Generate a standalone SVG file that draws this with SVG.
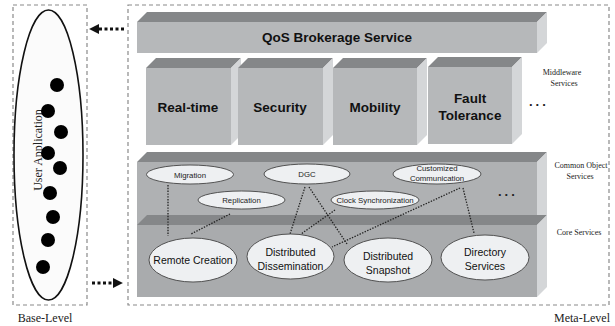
<svg xmlns="http://www.w3.org/2000/svg" width="615" height="326" viewBox="0 0 615 326">
  <defs>
    <marker id="headL" viewBox="0 0 10 10" refX="1" refY="5" markerWidth="3.3" markerHeight="3.3" orient="auto-start-reverse" markerUnits="strokeWidth">
      <path d="M0,0 L10,5 L0,10 Z" fill="#111"/>
    </marker>
    <style>
      .frame{fill:none;stroke:#8a8a8a;stroke-width:1.2;stroke-dasharray:4,3}
      .front{fill:#b6b8ba}
      .front2{fill:#afb1b3}
      .front3{fill:#a9abad}
      .top{fill:#858789}
      .side{fill:#d4d6d8}
      .big{font-family:"Liberation Sans",Arial,sans-serif;font-weight:bold;font-size:13.5px;fill:#111;text-anchor:middle}
      .svc{fill:#eef0f2;stroke:#444;stroke-width:0.9}
      .small{font-family:"Liberation Sans",Arial,sans-serif;font-size:7.8px;fill:#222;text-anchor:middle}
      .mid{font-family:"Liberation Sans",Arial,sans-serif;font-size:10.5px;fill:#111;text-anchor:middle}
      .note{font-family:"Liberation Serif","Times New Roman",serif;font-size:8px;fill:#222;text-anchor:middle}
      .lvl{font-family:"Liberation Serif","Times New Roman",serif;font-size:12px;fill:#222}
      .dots{font-family:"Liberation Sans",Arial,sans-serif;font-size:13px;font-weight:bold;fill:#222;letter-spacing:3px}
      .link{fill:none;stroke:#222;stroke-width:1.3;stroke-dasharray:1.4,1.4}
      .flow{fill:none;stroke:#111;stroke-width:3;stroke-dasharray:3,2.5}
    </style>
  </defs>

  <!-- base level -->
  <g id="base-level">
    <rect class="frame" x="13" y="5" width="74" height="300"/>
    <ellipse cx="48.5" cy="155" rx="34.5" ry="145" fill="#fbfbfb" stroke="#111" stroke-width="1.6"/>
    <text class="lvl" transform="translate(42,150) rotate(-90)" text-anchor="middle" font-size="12.5">User Application</text>
    <g fill="#000">
      <circle cx="57" cy="85" r="7"/>
      <circle cx="48" cy="111" r="7"/>
      <circle cx="61" cy="132" r="7"/>
      <circle cx="48" cy="153" r="7"/>
      <circle cx="60" cy="168" r="7"/>
      <circle cx="50" cy="193" r="7"/>
      <circle cx="53" cy="217" r="7"/>
      <circle cx="48" cy="240" r="7"/>
      <circle cx="43" cy="267" r="7"/>
    </g>
    <text class="lvl" x="45" y="322" text-anchor="middle">Base-Level</text>
  </g>

  <!-- meta level frame -->
  <g id="meta-level">
    <rect class="frame" x="128" y="5" width="481" height="300"/>
    <text class="lvl" x="610" y="322" text-anchor="end">Meta-Level</text>
  </g>

  <!-- QoS brokerage bar -->
  <g id="qos-brokerage">
    <polygon class="top" points="137,22 147,12 547,12 537,22"/>
    <polygon class="side" points="537,22 547,12 547,43 537,53"/>
    <rect class="front" x="137" y="22" width="400" height="31"/>
    <text class="big" x="337" y="42" font-size="13">QoS Brokerage Service</text>
  </g>

  <!-- middleware service boxes -->
  <g id="real-time">
    <polygon class="top" points="146,68 156,58 241,58 231,68"/>
    <polygon class="side" points="231,68 241,58 241,135 231,145"/>
    <rect class="front" x="146" y="68" width="85" height="77"/>
    <text class="big" x="188" y="112">Real-time</text>
  </g>
  <g id="security">
    <polygon class="top" points="238,68 248,58 333,58 323,68"/>
    <polygon class="side" points="323,68 333,58 333,135 323,145"/>
    <rect class="front" x="238" y="68" width="85" height="77"/>
    <text class="big" x="280" y="112">Security</text>
  </g>
  <g id="mobility">
    <polygon class="top" points="333,68 343,58 427,58 417,68"/>
    <polygon class="side" points="417,68 427,58 427,135 417,145"/>
    <rect class="front" x="333" y="68" width="84" height="77"/>
    <text class="big" x="375" y="112">Mobility</text>
  </g>
  <g id="fault-tolerance">
    <polygon class="top" points="428,67 438,57 522,57 512,67"/>
    <polygon class="side" points="512,67 522,57 522,134 512,144"/>
    <rect class="front" x="428" y="67" width="84" height="77"/>
    <text class="big" x="470" y="103">Fault</text>
    <text class="big" x="470" y="120">Tolerance</text>
  </g>
  <text class="dots" x="529" y="106">...</text>
  <text class="note" x="562" y="75">Middleware</text>
  <text class="note" x="564" y="86">Services</text>

  <!-- common object services bar -->
  <g id="common-object-services">
    <polygon class="top" points="137,162 147,152 547,152 537,162"/>
    <polygon class="side" points="537,162 547,152 547,215 537,225"/>
    <rect class="front2" x="137" y="162" width="400" height="63"/>
    <text class="note" x="581" y="168">Common Object</text>
    <text class="note" x="580" y="179">Services</text>
  </g>

  <!-- core services bar -->
  <g id="core-services">
    <polygon class="top" points="137,225 147,215 547,215 537,225"/>
    <polygon class="side" points="537,225 547,215 547,287 537,297"/>
    <rect class="front3" x="137" y="225" width="400" height="72"/>
    <text class="note" x="579" y="235">Core Services</text>
  </g>

  <!-- common object services -->
  <g id="migration">
    <ellipse class="svc" cx="190" cy="174.5" rx="43.5" ry="9.5"/>
    <text class="small" x="190" y="177.5">Migration</text>
  </g>
  <g id="dgc">
    <ellipse class="svc" cx="307" cy="174" rx="43" ry="10"/>
    <text class="small" x="307" y="177">DGC</text>
  </g>
  <g id="customized-communication">
    <ellipse class="svc" cx="437" cy="174" rx="44" ry="10"/>
    <text class="small" x="437" y="171">Customized</text>
    <text class="small" x="437" y="181">Communication</text>
  </g>
  <g id="replication">
    <ellipse class="svc" cx="241.5" cy="200" rx="43.5" ry="9"/>
    <text class="small" x="241.5" y="203">Replication</text>
  </g>
  <g id="clock-synchronization">
    <ellipse class="svc" cx="375" cy="200" rx="44" ry="9"/>
    <text class="small" x="375" y="203">Clock Synchronization</text>
  </g>
  <text class="dots" x="498" y="196">...</text>

  <!-- dependency links and level arrows -->
  <g id="connectors">
    <line class="link" x1="168" y1="185" x2="168" y2="236"/>
    <line class="link" x1="230" y1="214" x2="191" y2="234"/>
    <line class="link" x1="305" y1="187" x2="290" y2="234"/>
    <line class="link" x1="309" y1="187" x2="347" y2="244"/>
    <line class="link" x1="335" y1="210" x2="301" y2="234"/>
    <line class="link" x1="460" y1="188" x2="332" y2="247"/>
    <line class="link" x1="463" y1="188" x2="474" y2="233"/>
    <line class="flow" x1="124" y1="29" x2="98" y2="29" marker-end="url(#headL)"/>
    <line class="flow" x1="92" y1="283" x2="114" y2="283" marker-end="url(#headL)"/>
  </g>

  <!-- core services -->
  <g id="remote-creation">
    <ellipse class="svc" cx="193" cy="260" rx="44" ry="22"/>
    <text class="mid" x="193" y="263.5">Remote Creation</text>
  </g>
  <g id="distributed-dissemination">
    <ellipse class="svc" cx="290.5" cy="256.5" rx="43.5" ry="22.5"/>
    <text class="mid" x="290.5" y="256">Distributed</text>
    <text class="mid" x="290.5" y="270">Dissemination</text>
  </g>
  <g id="distributed-snapshot">
    <ellipse class="svc" cx="388" cy="260" rx="44" ry="22"/>
    <text class="mid" x="388" y="260">Distributed</text>
    <text class="mid" x="388" y="274">Snapshot</text>
  </g>
  <g id="directory-services">
    <ellipse class="svc" cx="485" cy="257.5" rx="44" ry="22.5"/>
    <text class="mid" x="485" y="256">Directory</text>
    <text class="mid" x="485" y="270">Services</text>
  </g>
</svg>
